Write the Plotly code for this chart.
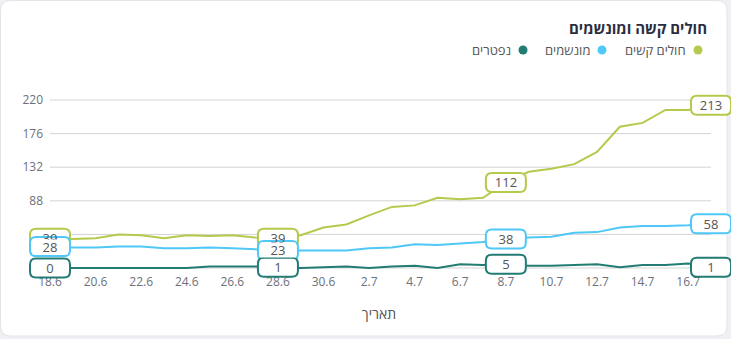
import plotly.graph_objects as go

# ---------------- data ----------------
dates = ["18.6", "19.6", "20.6", "21.6", "22.6", "23.6", "24.6", "25.6", "26.6", "27.6",
         "28.6", "29.6", "30.6", "1.7", "2.7", "3.7", "4.7", "5.7", "6.7", "7.7",
         "8.7", "9.7", "10.7", "11.7", "12.7", "13.7", "14.7", "15.7", "16.7", "17.7"]
severe = [39, 38, 39, 44, 43, 39, 43, 42, 43, 40,
          39, 43, 53, 57, 69, 80, 82, 92, 90, 92,
          112, 126, 130, 136, 152, 185, 190, 207, 207, 213]
ventilated = [28, 27, 27, 28, 28, 26, 26, 27, 26, 24,
              23, 23, 23, 23, 26, 27, 31, 30, 32, 34,
              38, 40, 41, 46, 47, 53, 55, 55, 56, 58]
deceased = [0, 0, 0, 0, 0, 0, 0, 2, 2, 2,
            1, 0, 1, 2, 0, 2, 3, 0, 5, 4,
            5, 3, 3, 4, 5, 1, 4, 4, 6, 1]
series_names = ["חולים קשים", "מונשמים", "נפטרים"]
series_colors = ["#b5c94c", "#4fc8f7", "#237c74"]
labeled_points = [0, 10, 20, 29]
y_ticks = [0, 44, 88, 132, 176, 220]
tick_dates = dates[::2]
chart_title = "חולים קשה ומונשמים"
x_title = "תאריך"

series = [severe, ventilated, deceased]
n = len(dates)
xs = list(range(n))

# ---------------- layout geometry ----------------
W, H = 731, 339
ML, MR, MT, MB = 27, 0, 90, 59
PW, PH = W - ML - MR, H - MT - MB
X_FIRST_PX, X_LAST_PX = 50, 711      # where first / last date sit
Y_ZERO_PX, Y_TOP_PX = 268, 100       # where 0 / top tick sit
kx = (X_LAST_PX - X_FIRST_PX) / (n - 1)
ky = (Y_ZERO_PX - Y_TOP_PX) / y_ticks[-1]
x_range = [(ML - X_FIRST_PX) / kx, (n - 1) + (W - MR - X_LAST_PX) / kx]
y_range = [-(MT + PH - Y_ZERO_PX) / ky, y_ticks[-1] + (Y_TOP_PX - MT) / ky]


def pxx(px):
    return (px - ML) / PW


def pxy(py):
    return (MT + PH - py) / PH


def rrect(x0, y0, x1, y1, r):
    return (f"M{x0 + r},{y0} L{x1 - r},{y0} Q{x1},{y0} {x1},{y0 + r} "
            f"L{x1},{y1 - r} Q{x1},{y1} {x1 - r},{y1} L{x0 + r},{y1} "
            f"Q{x0},{y1} {x0},{y1 - r} L{x0},{y0 + r} Q{x0},{y0} {x0 + r},{y0} Z")


FONT = "Open Sans, Arimo, Liberation Sans, DejaVu Sans, sans-serif"

fig = go.Figure()
for vals, name, col in zip(series, series_names, series_colors):
    fig.add_trace(go.Scatter(x=xs, y=vals, mode="lines", name=name,
                             line=dict(color=col, width=2), hoverinfo="skip",
                             showlegend=False))

shapes = []
annotations = []

# card background
shapes.append(dict(type="path", xref="paper", yref="paper", xsizemode="pixel", ysizemode="pixel",
                   xanchor=0, yanchor=0, layer="below",
                   path=rrect(0.5 - ML, -(H - 3 - (MT + PH)), 727 - ML, MT + PH - 0.5, 10),
                   fillcolor="#ffffff", line=dict(color="#e1e4e8", width=1)))

# gridlines
for t in y_ticks:
    shapes.append(dict(type="line", xref="x", yref="y", x0=xs[0], x1=xs[-1], y0=t, y1=t,
                       layer="below", line=dict(color="#d3d3d3", width=1)))

# value label boxes
BW, BH, BR = 20, 9.5, 6
for si, (vals, col) in enumerate(zip(series, series_colors)):
    for i in labeled_points:
        shapes.append(dict(type="path", xref="x", yref="y", xsizemode="pixel", ysizemode="pixel",
                           xanchor=xs[i], yanchor=vals[i], layer="above",
                           path=rrect(-BW, -BH, BW, BH, BR),
                           fillcolor="#ffffff", line=dict(color=col, width=2)))
        annotations.append(dict(x=xs[i], y=vals[i], xref="x", yref="y", text=str(vals[i]),
                                showarrow=False, xanchor="center", yanchor="middle",
                                font=dict(family=FONT, size=13, color="#555555"),
                                bgcolor="#ffffff" if si > 0 else "rgba(0,0,0,0)",
                                width=34, height=14, borderpad=0))

# title
annotations.append(dict(x=pxx(709), y=pxy(28), xref="paper", yref="paper", text="<b>" + chart_title + "</b>",
                        showarrow=False, xanchor="right", yanchor="middle",
                        font=dict(family=FONT, size=15, color="#2b2e3f")))

# legend (RTL: dot to the right of text)
legend_dot_px = [698, 602, 523]
for name, col, dx in zip(series_names, series_colors, legend_dot_px):
    shapes.append(dict(type="circle", xref="paper", yref="paper", xsizemode="pixel", ysizemode="pixel",
                       xanchor=pxx(dx), yanchor=pxy(50), x0=-4.5, x1=4.5, y0=-4.5, y1=4.5,
                       fillcolor=col, line=dict(width=0), layer="above"))
    annotations.append(dict(x=pxx(dx - 10), y=pxy(50), xref="paper", yref="paper", text=name,
                            showarrow=False, xanchor="right", yanchor="middle",
                            font=dict(family=FONT, size=13, color="#555555")))

fig.update_layout(
    width=W, height=H,
    margin=dict(l=ML, r=MR, t=MT, b=MB, autoexpand=False),
    paper_bgcolor="#eef0f4",
    plot_bgcolor="rgba(0,0,0,0)",
    showlegend=False,
    shapes=shapes,
    annotations=annotations,
    font=dict(family=FONT),
    xaxis=dict(range=x_range, showgrid=False, zeroline=False, showline=False, ticks="",
               tickmode="array", tickvals=xs[::2], ticktext=tick_dates,
               tickfont=dict(size=12, color="#6e7079"), ticklabelstandoff=-7,
               title=dict(text=x_title, font=dict(size=14, color="#555555"), standoff=20),
               fixedrange=True),
    yaxis=dict(range=y_range, showgrid=False, zeroline=False, showline=False, ticks="",
               tickmode="array", tickvals=y_ticks,
               tickfont=dict(size=12, color="#6e7079"), ticklabelstandoff=-17,
               fixedrange=True),
)

fig.write_html("out.html")
